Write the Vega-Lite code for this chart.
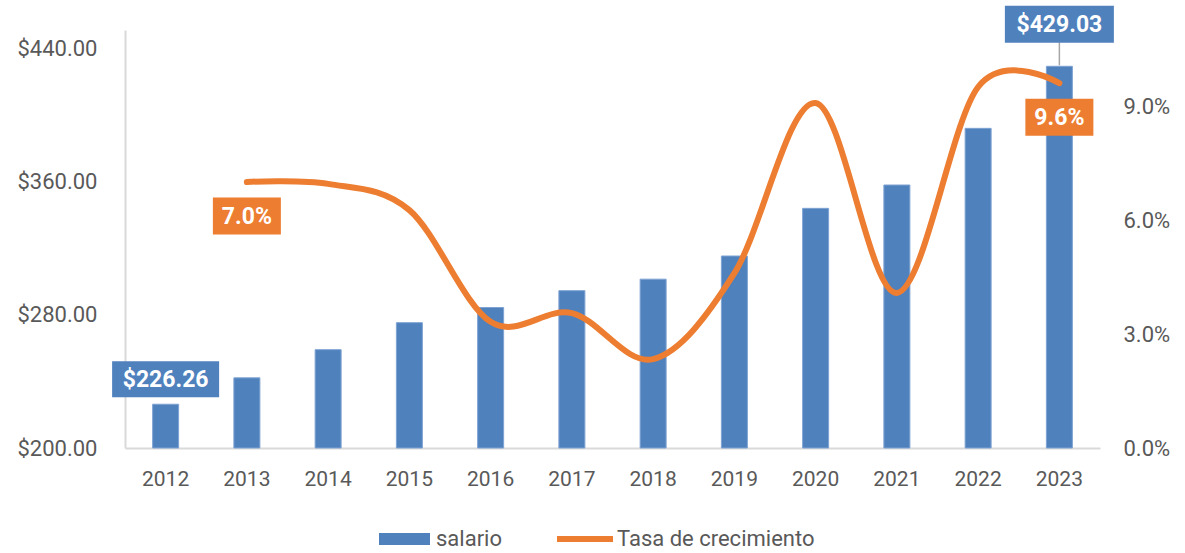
{
  "$schema": "https://vega.github.io/schema/vega-lite/v6.json",
  "width": 975,
  "height": 418,
  "autosize": {"type": "none"},
  "padding": {"left": 125, "top": 30, "right": 85, "bottom": 105},
  "background": "white",
  "config": {
    "view": {"stroke": null},
    "font": "Roboto",
    "axis": {"labelFont": "Roboto", "labelFontSize": 22, "labelColor": "#595959", "grid": false, "ticks": false, "domainColor": "#d9d9d9", "domainWidth": 2, "title": null},
    "legend": {"labelFont": "Roboto", "labelFontSize": 22, "labelColor": "#595959", "padding": 0, "labelLimit": 400}
  },
  "data": {
    "values": [
      {"year": "2012", "salario": 226.26, "tasa": null},
      {"year": "2013", "salario": 242.1, "tasa": 0.070},
      {"year": "2014", "salario": 259.0, "tasa": 0.0695},
      {"year": "2015", "salario": 275.2, "tasa": 0.0626},
      {"year": "2016", "salario": 284.3, "tasa": 0.0332},
      {"year": "2017", "salario": 294.4, "tasa": 0.0355},
      {"year": "2018", "salario": 301.3, "tasa": 0.0234},
      {"year": "2019", "salario": 315.2, "tasa": 0.046},
      {"year": "2020", "salario": 343.8, "tasa": 0.0908},
      {"year": "2021", "salario": 357.8, "tasa": 0.0408},
      {"year": "2022", "salario": 391.8, "tasa": 0.095},
      {"year": "2023", "salario": 429.03, "tasa": 0.096}
    ]
  },
  "encoding": {
    "x": {"field": "year", "type": "ordinal", "scale": {"paddingInner": 0.68, "paddingOuter": 0.34}, "axis": {"labelAngle": 0, "labelPadding": 20, "labelFontSize": 21, "domainWidth": 2}}
  },
  "layer": [
    {
      "layer": [
        {
          "mark": {"type": "bar", "stroke": "#7ea3d3", "strokeWidth": 1},
          "encoding": {
            "y": {"field": "salario", "type": "quantitative", "scale": {"domain": [200, 450.8], "nice": false, "zero": false}, "axis": {"values": [200, 280, 360, 440], "format": "$,.2f", "labelPadding": 28, "domain": true}},
            "y2": {"datum": 200},
            "fill": {"datum": "salario", "type": "nominal", "scale": {"domain": ["salario"], "range": ["#4F81BD"]},
              "legend": {"title": null, "orient": "none", "legendX": 254, "legendY": 483.5, "symbolType": "M-1,-0.235H1V0.235H-1Z", "symbolSize": 2601, "labelOffset": 6, "symbolStrokeWidth": 0, "symbolOpacity": 1}}
          }
        },
        {
          "transform": [{"filter": "datum.year == '2012'"}],
          "mark": {"type": "point", "shape": "M-1,-0.336H1V0.336H-1Z", "size": 11449, "filled": true, "fill": "#4F81BD", "opacity": 1, "yOffset": -25},
          "encoding": {"y": {"field": "salario", "type": "quantitative"}}
        },
        {
          "transform": [{"filter": "datum.year == '2023'"}],
          "mark": {"type": "rule", "color": "#a6a6a6", "strokeWidth": 1.5, "yOffset": -1, "y2Offset": -24},
          "encoding": {"y": {"field": "salario", "type": "quantitative"}, "y2": {"field": "salario"}}
        },
        {
          "transform": [{"filter": "datum.year == '2023'"}],
          "mark": {"type": "point", "shape": "M-1,-0.34H1V0.34H-1Z", "size": 11881, "filled": true, "fill": "#4F81BD", "opacity": 1, "yOffset": -42},
          "encoding": {"y": {"field": "salario", "type": "quantitative"}}
        },
        {
          "transform": [{"filter": "datum.year == '2012'"}],
          "mark": {"type": "text", "color": "white", "fontWeight": "bold", "fontSize": 23, "baseline": "middle", "yOffset": -24},
          "encoding": {"y": {"field": "salario", "type": "quantitative"}, "text": {"field": "salario", "type": "quantitative", "format": "$,.2f"}}
        },
        {
          "transform": [{"filter": "datum.year == '2023'"}],
          "mark": {"type": "text", "color": "white", "fontWeight": "bold", "fontSize": 23, "baseline": "middle", "yOffset": -41},
          "encoding": {"y": {"field": "salario", "type": "quantitative"}, "text": {"field": "salario", "type": "quantitative", "format": "$,.2f"}}
        }
      ]
    },
    {
      "layer": [
        {
          "transform": [{"filter": "datum.tasa != null"}],
          "mark": {"type": "line", "interpolate": "cardinal", "strokeWidth": 6, "strokeCap": "round", "strokeJoin": "round"},
          "encoding": {
            "y": {"field": "tasa", "type": "quantitative", "scale": {"domain": [0, 0.11], "nice": false}, "axis": {"orient": "right", "values": [0, 0.03, 0.06, 0.09], "format": ".1%", "labelPadding": 23, "domain": false}},
            "stroke": {"datum": "Tasa de crecimiento", "type": "nominal", "scale": {"domain": ["Tasa de crecimiento"], "range": ["#ED7D31"]},
              "legend": {"title": null, "orient": "none", "legendX": 429, "legendY": 478, "symbolType": "stroke", "symbolSize": 3136, "symbolStrokeWidth": 6, "labelOffset": 1}}
          }
        },
        {
          "transform": [{"filter": "datum.year == '2013' || datum.year == '2023'"}],
          "mark": {"type": "point", "shape": "M-1,-0.544H1V0.544H-1Z", "size": 4624, "filled": true, "fill": "#ED7D31", "opacity": 1, "yOffset": 34},
          "encoding": {"y": {"field": "tasa", "type": "quantitative"}}
        },
        {
          "transform": [{"filter": "datum.year == '2013' || datum.year == '2023'"}],
          "mark": {"type": "text", "color": "white", "fontWeight": "bold", "fontSize": 23, "baseline": "middle", "yOffset": 35},
          "encoding": {"y": {"field": "tasa", "type": "quantitative"}, "text": {"field": "tasa", "type": "quantitative", "format": ".1%"}}
        }
      ]
    }
  ],
  "resolve": {"scale": {"y": "independent"}}
}
